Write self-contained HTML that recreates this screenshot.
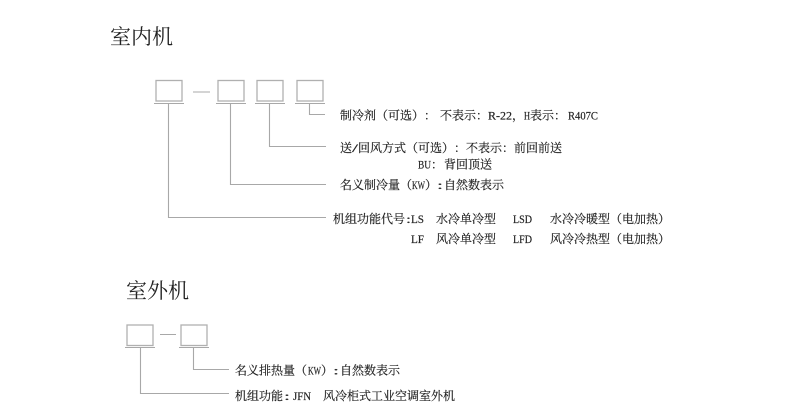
<!DOCTYPE html>
<html><head><meta charset="utf-8">
<style>
html,body{margin:0;padding:0;background:#fff;width:790px;height:420px;overflow:hidden}
svg{display:block}
text{font-family:"Liberation Serif","Noto Serif CJK SC",serif;font-size:12px;fill:#222;stroke:#222;stroke-width:.18;white-space:pre;text-spacing-trim:space-all;font-kerning:none;font-feature-settings:"palt" 0,"kern" 0}
.t{font-size:21px;fill:#222;stroke:none}
.l{stroke:#a8a8a8;stroke-width:1.1;fill:none}
.b{stroke:#b0b0b0;stroke-width:1.3;fill:none}
</style></head><body>
<svg width="790" height="420" viewBox="0 0 790 420" xmlns="http://www.w3.org/2000/svg">
<text class="t" x="110" y="44">室内机</text>
<text class="t" x="126" y="298">室外机</text>

<rect class="b" x="156" y="80.500" width="26" height="20.500"/>
<rect class="b" x="218" y="80.500" width="26" height="20.500"/>
<rect class="b" x="257" y="80.500" width="26" height="20.500"/>
<rect class="b" x="297" y="80.500" width="26" height="20.500"/>
<path class="l" d="M193 92H210M154 103.500H184M216 103.500H246M255 103.500H285M295 103.500H325"/>
<path class="l" d="M168.500 104V217.500H326M230.500 104V184.500H326M269.500 104V146.500H326M309.500 104V114.500H325"/>

<rect class="b" x="127" y="325" width="26" height="20.500"/>
<rect class="b" x="181" y="325" width="26" height="20.500"/>
<path class="l" d="M160 334.500H176M125 347.500H155M179 347.500H209"/>
<path class="l" d="M140.500 348V393.500H229M193.500 348V369.500H229"/>

<text x="340" y="119.500">制冷剂（可选）：</text>
<text x="440" y="119.500">不表示：</text>
<text x="488" y="119.500" textLength="24" lengthAdjust="spacingAndGlyphs">R-22</text>
<text x="512" y="119.500">，</text>
<text x="524" y="119.500" textLength="6" lengthAdjust="spacingAndGlyphs">H</text>
<text x="530" y="119.500">表示：</text>
<text x="568" y="119.500" textLength="30" lengthAdjust="spacingAndGlyphs">R407C</text>

<text x="340" y="152">送</text>
<text x="352" y="152" textLength="6" lengthAdjust="spacingAndGlyphs">/</text>
<text x="358" y="152">回风方式（可选）：</text>
<text x="466" y="152">不表示：</text>
<text x="514" y="152">前回前送</text>

<text x="418" y="168.500" textLength="13" lengthAdjust="spacingAndGlyphs">BU</text>
<text x="431" y="168.500">：</text>
<text x="444" y="168.500">背回顶送</text>

<text x="340" y="189">名义制冷量（</text>
<text x="412" y="189" textLength="13" lengthAdjust="spacingAndGlyphs">KW</text>
<text x="425" y="189">）</text>
<text x="437" y="189" textLength="6" lengthAdjust="spacingAndGlyphs">:</text>
<text x="444" y="189">自然数表示</text>

<text x="333" y="223">机组功能代号</text>
<text x="406" y="223" textLength="5" lengthAdjust="spacingAndGlyphs">:</text>
<text x="411" y="223" textLength="13" lengthAdjust="spacingAndGlyphs">LS</text>
<text x="436" y="223">水冷单冷型</text>
<text x="513" y="223" textLength="19" lengthAdjust="spacingAndGlyphs">LSD</text>
<text x="550" y="223">水冷冷暖型（电加热）</text>

<text x="411" y="243" textLength="13" lengthAdjust="spacingAndGlyphs">LF</text>
<text x="436" y="243">风冷单冷型</text>
<text x="513" y="243" textLength="19" lengthAdjust="spacingAndGlyphs">LFD</text>
<text x="550" y="243">风冷冷热型（电加热）</text>

<text x="235" y="374.500">名义排热量（</text>
<text x="308" y="374.500" textLength="13" lengthAdjust="spacingAndGlyphs">KW</text>
<text x="321" y="374.500">）</text>
<text x="333" y="374.500" textLength="6" lengthAdjust="spacingAndGlyphs">:</text>
<text x="340" y="374.500">自然数表示</text>

<text x="235" y="400">机组功能</text>
<text x="284" y="400" textLength="6" lengthAdjust="spacingAndGlyphs">:</text>
<text x="293" y="400" textLength="18" lengthAdjust="spacingAndGlyphs">JFN</text>
<text x="323" y="400">风冷柜式工业空调室外机</text>
</svg>
</body></html>
